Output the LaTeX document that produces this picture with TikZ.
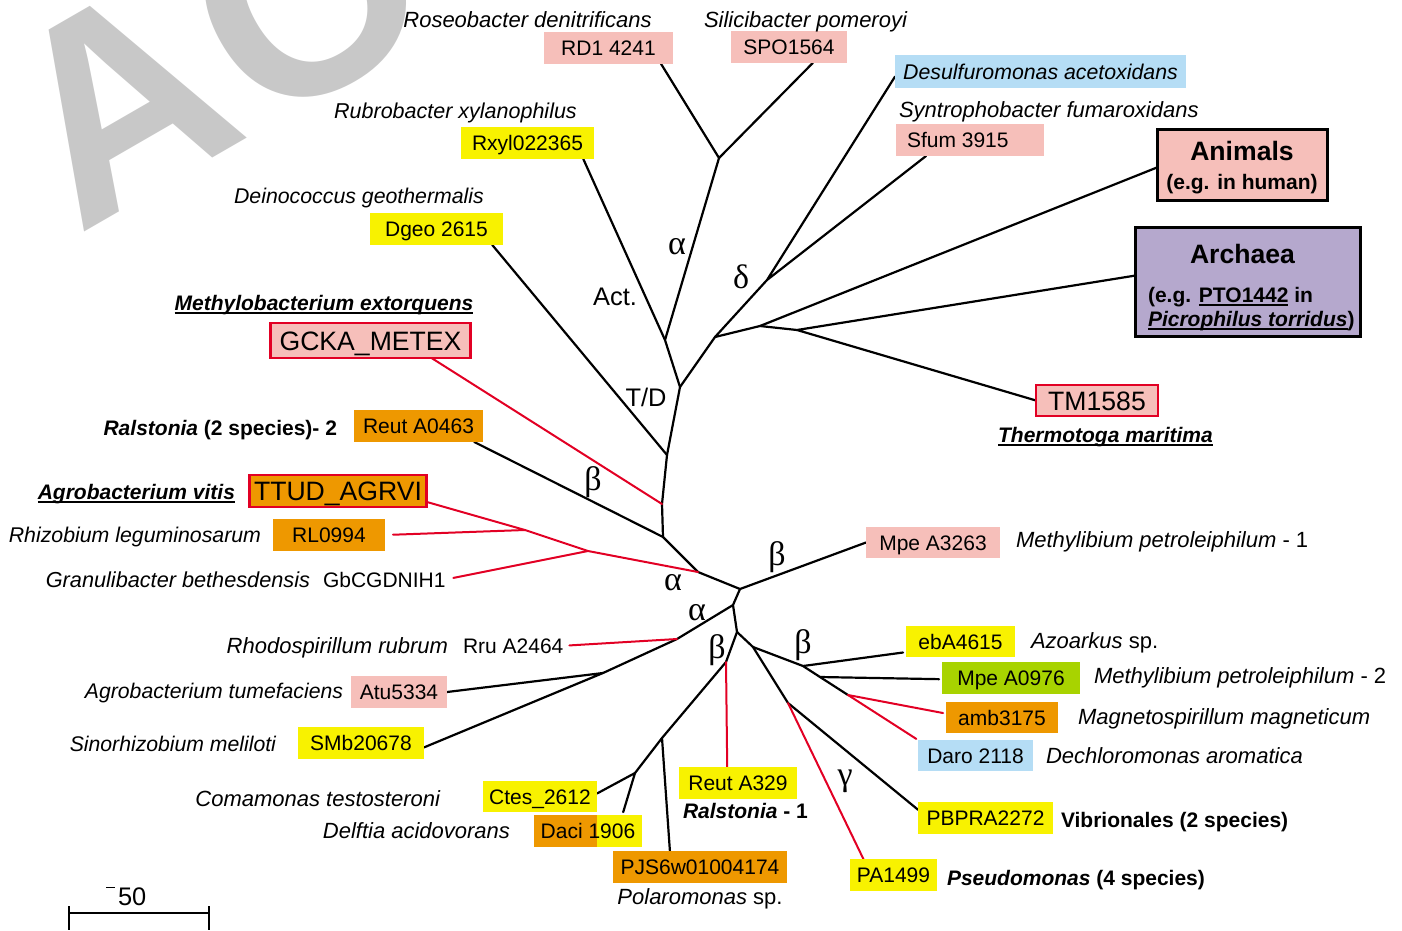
\documentclass[tikz,border=0pt]{standalone}
\usepackage{fontspec}
\setmainfont{Liberation Sans}
\newfontfamily\greekfamily{Liberation Serif}
\usepackage{tkz-euclide}
\usetikzlibrary{backgrounds}

\definecolor{idpink}{RGB}{246,191,186}
\definecolor{idyellow}{RGB}{248,242,0}
\definecolor{idorange}{RGB}{238,152,0}
\definecolor{idblue}{RGB}{181,221,245}
\definecolor{idgreen}{RGB}{168,211,0}
\definecolor{idpurple}{RGB}{181,168,205}
\definecolor{linered}{RGB}{226,0,36}
\definecolor{wmgray}{RGB}{200,200,200}

\newcommand\spfont{\fontsize{22}{26}\selectfont\itshape}
\newcommand\idfont{\fontsize{21}{25}\selectfont}
\newcommand\bigidfont{\fontsize{26.6}{31}\selectfont}
\newcommand\labfont{\fontsize{21}{25}\selectfont\bfseries}
\newcommand\cladefont{\fontsize{25.4}{30}\selectfont}
\newcommand\greekfont{\greekfamily\fontsize{34}{40}\selectfont}
\newcommand\undl[1]{\setbox0\hbox{#1}\rlap{\rule[-3.5pt]{\wd0}{1.8pt}}\box0\relax}

\tikzset{
  every node/.style={inner sep=0pt,outer sep=0pt},
  branch/.style={line width=2.2pt,line cap=round,line join=round},
  redbranch/.style={branch,color=linered,line width=2pt},
  idbox/.style={font=\idfont,minimum height=32pt,text height=19pt,text depth=4pt},
  bigbox/.style={font=\bigidfont,draw=linered,line width=2.5pt,fill=idpink,text height=24pt,text depth=5pt},
  groupbox/.style={draw=black,line width=3pt},
  sp/.style={font=\spfont},
  spsize/.style={font=\fontsize{#1}{26}\selectfont\itshape},
  lab/.style={font=\labfont},
  greek/.style={font=\greekfont},
  clade/.style={font=\cladefont},
  watermark/.style={font=\fontsize{280}{300}\selectfont\bfseries,text=wmgray}
}

\begin{document}
\begin{tikzpicture}[x=1pt,y=-1pt]
\useasboundingbox (0,0) rectangle (1402,930);
\clip (0,0) rectangle (1402,930);
\tkzSetUpLine[line width=2.2pt,color=black]

\node[watermark,anchor=base west,rotate=30] (wmA) at (78,235) {A};
\node[watermark,anchor=base,rotate=30] (wmO) at (355,79) {O};

\tkzDefPoints{740/589/root,698/572/na,663/537/nb,662/504/nr,667/455/ntd,680/387/nup,%
665/340/nact,719/158/nalpha,715/337/ndel,767/280/ndd,760/326/nan,797/330/nar,%
588/551/nra,525/530/nrb,733/605/nlo,677/639/nal,603/673/nat,737/632/nbot,%
726/662/nbl,662/738/npj,635/773/nct,753/647/nbr,788/703/ng,803/666/nbe,%
820/677/nmp,848/695/nam,69/913/sba,209/913/sbb}

\node[idbox,fill=idpink,minimum width=129pt] (rd) at (608.5,47.5) {RD1 4241};
\node[idbox,fill=idpink,minimum width=116pt] (spo) at (789,47) {SPO1564};
\node[idbox,fill=idyellow,minimum width=133pt] (rxyl) at (527.5,143) {Rxyl022365};
\node[idbox,fill=idyellow,minimum width=133pt] (dgeo) at (436.5,229) {Dgeo 2615};
\node[bigbox,minimum width=200pt,minimum height=35pt] (gcka) at (370.5,340.5) {GCKA\_METEX};
\node[idbox,fill=idorange,minimum width=129pt] (reutA) at (418.5,426) {Reut A0463};
\node[bigbox,fill=idorange,minimum width=177pt,minimum height=32pt] (ttud) at (338,491) {TTUD\_AGRVI};
\node[idbox,fill=idorange,minimum width=112pt] (rl) at (329,535) {RL0994};
\node[idbox,fill=idpink,minimum width=96pt] (atu) at (399,692) {Atu5334};
\node[idbox,fill=idyellow,minimum width=126pt] (smb) at (361,743) {SMb20678};
\node[idbox,fill=idyellow,minimum width=114pt,minimum height=31pt] (ctes) at (540,796.5) {Ctes\_2612};
\node[idbox,fill=idyellow,minimum width=108pt,path picture={\fill[idorange] (path picture bounding box.south west) rectangle ([xshift=63pt]path picture bounding box.north west);}] (daci) at (588,831) {Daci 1906};
\node[idbox,fill=idorange,minimum width=174pt] (pjs) at (700,867) {PJS6w01004174};
\node[idbox,fill=idyellow,minimum width=118pt] (reutB) at (738,783) {Reut A329};
\node[idbox,fill=idyellow,minimum width=87pt] (pa) at (893.5,875) {PA1499};
\node[idbox,fill=idyellow,minimum width=135pt] (pbpra) at (985.5,818) {PBPRA2272};
\node[idbox,fill=idyellow,minimum width=109pt,minimum height=31pt] (eba) at (960.5,641.5) {ebA4615};
\node[idbox,fill=idgreen,minimum width=138pt] (mpeB) at (1011,678) {Mpe A0976};
\node[idbox,fill=idorange,minimum width=112pt,minimum height=31pt] (amb) at (1002,717.5) {amb3175};
\node[idbox,fill=idblue,minimum width=115pt,minimum height=31pt] (daro) at (975.5,755.5) {Daro 2118};
\node[idbox,fill=idpink,minimum width=134pt,minimum height=31pt] (mpeA) at (933,542.5) {Mpe A3263};
\node[idbox,spsize=21.3,fill=idblue,minimum width=291pt,minimum height=33pt] (desulf) at (1040.5,71.5) {Desulfuromonas acetoxidans};
\node[idbox,fill=idpink,minimum width=148pt] (sfum) at (970,140) {\makebox[126pt][l]{Sfum 3915}};
\node[bigbox,minimum width=122pt,minimum height=31pt] (tm) at (1097,400.5) {TM1585};
\node[groupbox,fill=idpink,minimum width=170pt,minimum height=71pt] (animals) at (1242,164.5) {};
\node[groupbox,fill=idpurple,minimum width=225pt,minimum height=109pt] (archaea) at (1247.5,281.5) {};

\node[font=\bigidfont\bfseries,anchor=base] (animalsT) at ([yshift=-31pt]animals.north) {Animals};
\node[lab,anchor=base] (animalsS) at ([yshift=-60pt]animals.north) {(e.g. in human)};
\node[font=\bigidfont\bfseries,anchor=base] (archaeaT) at ([xshift=-5pt,yshift=-36pt]archaea.north) {Archaea};
\node[lab,anchor=base west] (archaeaS) at ([xshift=13pt,yshift=-75pt]archaea.north west) {(e.g. \undl{PTO1442} in};
\node[lab,anchor=base west] (archaeaP) at ([xshift=13pt,yshift=-99pt]archaea.north west) {\undl{\itshape Picrophilus torridus})};

\node[idbox,anchor=base west,text height=,text depth=] (gb) at (323,587) {GbCGDNIH1};
\node[idbox,anchor=base west,text height=,text depth=] (rru) at (463,653) {Rru A2464};

\begin{pgfonlayer}{background}
\tkzDrawSegments[branch](root,na na,nb nb,nr nr,ntd ntd,nup nup,nact nup,ndel nact,nalpha ndel,ndd ndel,nan nan,nar root,nlo nlo,nal nal,nat nlo,nbot nbot,nbl nbl,npj npj,nct nbot,nbr nbr,ng nbr,nbe nbe,nmp nmp,nam)
\tkzDrawSegments[redbranch](na,nra nra,nrb)
\draw[branch] (nalpha) -- (rd.-17) (nalpha) -- (spo.-34) (nact) -- (rxyl.-16) (ntd) -- (dgeo.-16)
  (nb) -- (reutA.-16) (nat) -- (atu.east) (nat) -- (smb.-4) (nct) -- (ctes.3.5) (npj) -- (pjs.152)
  (ng) -- (pbpra.173) (root) -- (mpeA.west) (ndd) -- (desulf.182) (ndd) -- (sfum.200)
  (nan) -- (animals.182) (nar) -- (archaea.177) (nar) -- (tm.west);
\draw[branch,shorten >=3pt] (nct) -- (daci.25);
\draw[branch,shorten >=3pt] (nbe) -- (eba.191);
\draw[branch,shorten >=3pt] (nmp) -- (mpeB.181);
\draw[redbranch] (nr) -- (gcka.-16.5) (nrb) -- (ttud.-7) (nbl) -- (reutB.124.5) (ng) -- (pa.152.4);
\draw[redbranch,shorten >=8pt] (nrb) -- (rl.east);
\draw[redbranch,shorten >=8pt] (nra) -- (gb.east);
\draw[redbranch,shorten >=6pt] (nal) -- (rru.east);
\draw[redbranch,shorten >=3pt] (nam) -- (amb.176);
\draw[redbranch,shorten >=2pt] (nam) -- (daro.north west);
\end{pgfonlayer}

\node[sp,anchor=base] (rdsp) at (527.5,27) {Roseobacter denitrificans};
\node[sp,anchor=base] (sposp) at (805.5,27) {Silicibacter pomeroyi};
\node[spsize=21.5,anchor=base] (rxylsp) at (455.5,118) {Rubrobacter xylanophilus};
\node[spsize=21.3,anchor=base] (dgeosp) at (359,203) {Deinococcus geothermalis};
\node[lab,anchor=base] (gckasp) at (324,310) {\undl{\itshape Methylobacterium extorquens}};
\node[lab,anchor=base east] (reutAsp) at (337,435) {{\itshape Ralstonia} (2 species)- 2};
\node[lab,anchor=base east] (ttudsp) at (235,499) {\undl{\itshape Agrobacterium vitis}};
\node[spsize=21.3,anchor=base east] (rlsp) at (261,542) {Rhizobium leguminosarum};
\node[spsize=21.7,anchor=base east] (gbsp) at (310,587) {Granulibacter bethesdensis};
\node[sp,anchor=base east] (rrusp) at (448,653) {Rhodospirillum rubrum};
\node[spsize=21.2,anchor=base east] (atusp) at (343,698) {Agrobacterium tumefaciens};
\node[spsize=21.2,anchor=base east] (smbsp) at (276,751) {Sinorhizobium meliloti};
\node[sp,anchor=base east] (ctessp) at (440,806) {Comamonas testosteroni};
\node[sp,anchor=base east] (dacisp) at (510,838) {Delftia acidovorans};
\node[sp,anchor=base] (pjssp) at (700,904) {Polaromonas \upshape sp.};
\node[lab,anchor=base west] (reutBsp) at (683,818) {{\itshape Ralstonia} - 1};
\node[sp,anchor=base west] (mpeAsp) at (1016,547) {Methylibium petroleiphilum \upshape - 1};
\node[sp,anchor=base west] (ebasp) at (1031,648) {Azoarkus \upshape sp.};
\node[sp,anchor=base west] (mpeBsp) at (1094,683) {Methylibium petroleiphilum \upshape - 2};
\node[sp,anchor=base west] (ambsp) at (1078,724) {Magnetospirillum magneticum};
\node[sp,anchor=base west] (darosp) at (1046,763) {Dechloromonas aromatica};
\node[lab,anchor=base west] (pbprasp) at (1061,827) {Vibrionales (2 species)};
\node[lab,anchor=base west] (pasp) at (947,885) {{\itshape Pseudomonas} (4 species)};
\node[sp,anchor=base west] (sfumsp) at (899,117) {Syntrophobacter fumaroxidans};
\node[lab,anchor=base] (tmsp) at (1105.5,442) {\undl{\itshape Thermotoga maritima}};

\node[greek] (alphaT) at (677,247) {α};
\node[greek] (deltaT) at (741,277) {δ};
\node[clade] (act) at (615,297) {Act.};
\node[clade] (td) at (646,397) {T/D};
\node[greek] (betaA) at (593,482) {β};
\node[greek] (alphaA) at (673,583) {α};
\node[greek] (betaM) at (777,557) {β};
\node[greek] (alphaB) at (697,613) {α};
\node[greek] (betaB) at (717,650) {β};
\node[greek] (betaC) at (803,645) {β};
\node[greek] (gammaP) at (845,781) {γ};

\draw[branch,line cap=butt] ([yshift=7pt]sba) -- ([yshift=-17pt]sba) ([yshift=7pt]sbb) -- ([yshift=-17pt]sbb) (sba) -- (sbb);
\node[clade,anchor=base west] (sbl) at (106,905) {\rule[17pt]{9pt}{1.5pt}\hspace{3pt}50};

\end{tikzpicture}
\end{document}
